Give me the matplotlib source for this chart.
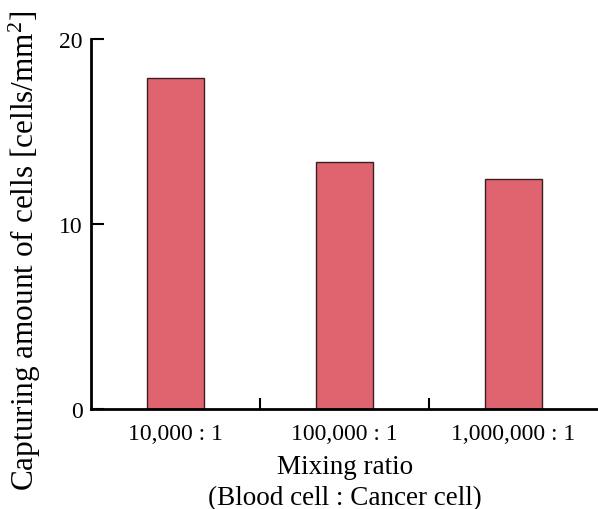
import numpy as np
import matplotlib
matplotlib.use("Agg")
import matplotlib.pyplot as plt

plt.rcParams['font.family'] = ['Liberation Serif', 'DejaVu Serif']
plt.rcParams['mathtext.fontset'] = 'custom'
plt.rcParams['mathtext.rm'] = 'Liberation Serif'
plt.rcParams['mathtext.it'] = 'Liberation Serif:italic'

# data
ratios = ['10,000 : 1', '100,000 : 1', '1,000,000 : 1']
captured = [17.9, 13.35, 12.45]
y_ticks = [0, 10, 20]

fig = plt.figure(figsize=(5.98, 5.10), dpi=100)
ax = fig.add_axes([0.1522, 0.1955, 0.848, 0.7261])

x = np.arange(len(ratios))
ax.bar(x, captured, width=0.335, color='#E06470', edgecolor='#3a1f22', linewidth=1.0)

ax.set_xlim(-0.5, len(ratios) - 0.5)
ax.set_ylim(0, 20)

# category labels sit between the boundary ticks
ax.set_xticks(x[:-1] + 0.5)
ax.set_xticklabels([])
ax.set_xticks(x, minor=True)
ax.set_xticklabels(ratios, minor=True, fontsize=17)
ax.tick_params(axis='x', which='minor', length=0, pad=10)
ax.tick_params(axis='x', which='major', direction='in', length=8, width=1.5)

ax.set_yticks(y_ticks)
ax.tick_params(axis='y', direction='in', length=9, width=1.5, labelsize=17, pad=6)

for s in ['top', 'right']:
    ax.spines[s].set_visible(False)
for s in ['left', 'bottom']:
    ax.spines[s].set_linewidth(2)

ax.set_xlabel('Mixing ratio\n(Blood cell : Cancer cell)', fontsize=19.5, linespacing=1.3, labelpad=7)
# y label is centred on the figure, not the axes
fig.text(25 / 598, 1 - 251 / 510, r'Capturing amount of cells [cells/mm$^2$]',
         rotation=90, ha='center', va='center', fontsize=22.5)

fig.savefig('out.png', dpi=100)
